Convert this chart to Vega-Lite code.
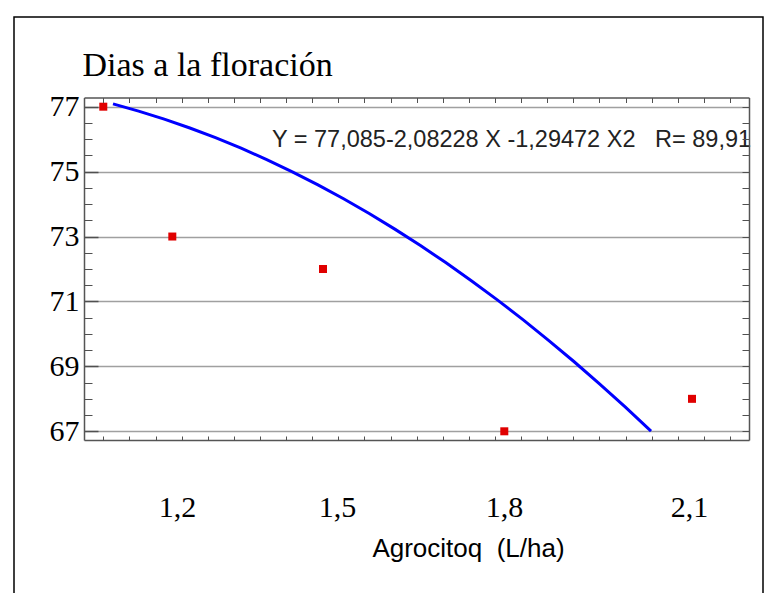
{
  "$schema": "https://vega.github.io/schema/vega-lite/v6.json",
  "width": 749,
  "height": 580,
  "autosize": {"type": "none"},
  "padding": {"left": 14, "top": 17, "right": 7, "bottom": -4},
  "background": "#ffffff",
  "config": {"view": {"stroke": "#000000", "strokeWidth": 1.5}},
  "datasets": {
    "puntos": [
      {"x": -0.0379, "y": 77},
      {"x": 0.2315, "y": 73},
      {"x": 0.8197, "y": 72},
      {"x": 1.5273, "y": 67},
      {"x": 2.26, "y": 68}
    ],
    "curva": [
      {"x": 0.0, "y": 77.085},
      {"x": 0.1, "y": 76.8638},
      {"x": 0.2, "y": 76.6168},
      {"x": 0.3, "y": 76.3438},
      {"x": 0.4, "y": 76.0449},
      {"x": 0.5, "y": 75.7202},
      {"x": 0.6, "y": 75.3695},
      {"x": 0.7, "y": 74.993},
      {"x": 0.8, "y": 74.5906},
      {"x": 0.9, "y": 74.1622},
      {"x": 1.0, "y": 73.708},
      {"x": 1.1, "y": 73.2279},
      {"x": 1.2, "y": 72.7219},
      {"x": 1.3, "y": 72.19},
      {"x": 1.4, "y": 71.6322},
      {"x": 1.5, "y": 71.0485},
      {"x": 1.6, "y": 70.4389},
      {"x": 1.7, "y": 69.8034},
      {"x": 1.8, "y": 69.142},
      {"x": 1.9, "y": 68.4547},
      {"x": 2.0, "y": 67.7416},
      {"x": 2.1, "y": 67.0025}
    ],
    "ecuacion": [
      {"x": 0.6206, "y": 75.758, "texto": "Y = 77,085-2,08228 X -1,29472 X2\u00a0\u00a0\u00a0R= 89,91"}
    ]
  },
  "resolve": {"axis": {"x": "independent", "y": "independent"}},
  "layer": [
    {
      "data": {"name": "puntos"},
      "mark": {"type": "point", "shape": "square", "filled": true, "size": 64, "color": "#e00000", "opacity": 1, "strokeWidth": 0},
      "encoding": {
        "x": {
          "field": "x", "type": "quantitative",
          "scale": {"domain": [-0.1132, 2.4824], "range": [70, 735], "nice": false, "zero": false},
          "axis": {
            "orient": "bottom", "offset": -157,
            "values": [0.2498, 0.8743, 1.5261, 2.2482],
            "labelExpr": "datum.value < 0.5 ? '1,2' : datum.value < 1.2 ? '1,5' : datum.value < 1.9 ? '1,8' : '2,1'",
            "ticks": false, "grid": false,
            "domain": true, "domainColor": "#555555", "domainWidth": 1.5,
            "labelFont": "Liberation Serif", "labelFontSize": 30, "labelColor": "#000000",
            "labelPadding": 52, "labelFlush": false, "labelOverlap": false,
            "title": "Agrocitoq\u00a0\u00a0(L/ha)", "titleFont": "Liberation Sans", "titleFontSize": 26,
            "titleFontWeight": "normal", "titleColor": "#000000",
            "titleX": 454, "titleY": 116, "titleAlign": "center", "titleBaseline": "alphabetic",
            "zindex": 1
          }
        },
        "y": {
          "field": "y", "type": "quantitative",
          "scale": {"domain": [66.732, 77.283], "range": [423, 80.5], "nice": false, "zero": false},
          "axis": {
            "orient": "left", "offset": -70,
            "values": [67, 69, 71, 73, 75, 77],
            "grid": true, "gridColor": "#a0a0a0", "gridWidth": 1.5,
            "ticks": true, "tickSize": -14, "tickColor": "#505050", "tickWidth": 1.5,
            "domain": true, "domainColor": "#555555", "domainWidth": 1.5,
            "labelFont": "Liberation Serif", "labelFontSize": 30, "labelColor": "#000000",
            "labelPadding": 19, "labelFlush": false, "labelOverlap": false, "labelBaseline": "middle",
            "title": "Dias a la floración", "titleAngle": 0, "titleX": -2, "titleY": 58,
            "titleAlign": "left", "titleBaseline": "alphabetic",
            "titleFont": "Liberation Serif", "titleFontSize": 34, "titleFontWeight": "normal", "titleColor": "#000000",
            "zindex": 0
          }
        }
      }
    },
    {
      "data": {"name": "curva"},
      "mark": {"type": "line", "color": "#0000ff", "strokeWidth": 3},
      "encoding": {
        "x": {
          "field": "x", "type": "quantitative",
          "scale": {"domain": [-0.1132, 2.4824], "range": [70, 735], "nice": false, "zero": false},
          "axis": {
            "orient": "top", "offset": -80.5,
            "values": [-0.0379, 0.064, 0.166, 0.2679, 0.3698, 0.4717, 0.5736, 0.6755, 0.7774, 0.8794, 0.9813, 1.0832, 1.1851, 1.287, 1.3889, 1.4908, 1.5927, 1.6947, 1.7966, 1.8985, 2.0004, 2.1023, 2.2042, 2.3061, 2.408],
            "ticks": true, "tickSize": -5, "tickColor": "#505050", "tickWidth": 1,
            "labels": false, "grid": false,
            "domain": true, "domainColor": "#555555", "domainWidth": 1.5,
            "title": null, "zindex": 1
          }
        },
        "y": {
          "field": "y", "type": "quantitative",
          "scale": {"domain": [66.732, 77.283], "range": [423, 80.5], "nice": false, "zero": false},
          "axis": {
            "orient": "right", "offset": -14,
            "values": [67, 67.5, 68, 68.5, 69, 69.5, 70, 70.5, 71, 71.5, 72, 72.5, 73, 73.5, 74, 74.5, 75, 75.5, 76, 76.5, 77],
            "ticks": true, "tickSize": -7, "tickColor": "#505050", "tickWidth": 1,
            "labels": false, "grid": false,
            "domain": true, "domainColor": "#555555", "domainWidth": 1.5,
            "title": null, "zindex": 1
          }
        }
      }
    },
    {
      "data": {"name": "ecuacion"},
      "mark": {"type": "text", "align": "left", "baseline": "alphabetic", "font": "Liberation Sans", "fontSize": 23.5, "color": "#222222"},
      "encoding": {
        "x": {
          "field": "x", "type": "quantitative",
          "scale": {"domain": [-0.1132, 2.4824], "range": [70, 735], "nice": false, "zero": false},
          "axis": {
            "orient": "bottom", "offset": -157,
            "values": [-0.0379, 0.064, 0.166, 0.2679, 0.3698, 0.4717, 0.5736, 0.6755, 0.7774, 0.8794, 0.9813, 1.0832, 1.1851, 1.287, 1.3889, 1.4908, 1.5927, 1.6947, 1.7966, 1.8985, 2.0004, 2.1023, 2.2042, 2.3061, 2.408],
            "ticks": true, "tickSize": -4, "tickColor": "#505050", "tickWidth": 1,
            "labels": false, "grid": false, "domain": false,
            "title": null, "zindex": 1
          }
        },
        "y": {
          "field": "y", "type": "quantitative",
          "scale": {"domain": [66.732, 77.283], "range": [423, 80.5], "nice": false, "zero": false},
          "axis": {
            "orient": "left", "offset": -70,
            "values": [67.5, 68, 68.5, 69.5, 70, 70.5, 71.5, 72, 72.5, 73.5, 74, 74.5, 75.5, 76, 76.5],
            "ticks": true, "tickSize": -8, "tickColor": "#505050", "tickWidth": 1,
            "labels": false, "grid": false, "domain": false,
            "title": null, "zindex": 1
          }
        },
        "text": {"field": "texto", "type": "nominal"}
      }
    }
  ]
}
